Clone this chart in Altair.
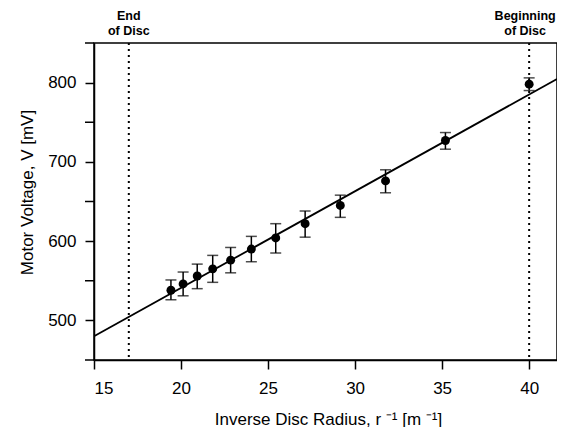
import altair as alt
import pandas as pd

# Data
radius_inv = [19.42, 20.12, 20.93, 21.82, 22.85, 24.04, 25.44, 27.13, 29.15, 31.75, 35.19, 40.0]
voltage = [538, 546, 556, 565, 576, 590, 604, 622, 645, 676, 727, 798]
v_low = [526, 531, 540, 548, 560, 574, 585, 605, 630, 661, 716, 790]
v_high = [551, 561, 571, 582, 592, 606, 622, 638, 658, 690, 737, 806]

fit_slope = 12.2
fit_intercept = 297.0
x_domain = [15, 41.6]
y_domain = [450, 850]

disc_x = [17, 40]
disc_labels = ["End\nof Disc", "Beginning\nof Disc"]

x_ticks = [15, 20, 25, 30, 35, 40]
y_ticks = [500, 600, 700, 800]
y_minor_ticks = [450, 550, 650, 750, 850]

df = pd.DataFrame({"x": radius_inv, "v": voltage, "lo": v_low, "hi": v_high})
fit_df = pd.DataFrame({"x": x_domain, "v": [fit_intercept + fit_slope * x for x in x_domain]})
end_df = pd.DataFrame({"x": disc_x[:1], "t": disc_labels[:1]})
beg_df = pd.DataFrame({"x": disc_x[1:], "t": disc_labels[1:]})
disc_df = pd.DataFrame({"x": disc_x})
minor_df = pd.DataFrame({"m": y_minor_ticks})

FONT = "Liberation Sans"

xs = alt.Scale(domain=x_domain, nice=False, zero=False)
ys = alt.Scale(domain=y_domain, nice=False, zero=False)

x_axis = alt.Axis(values=x_ticks, title="Inverse Disc Radius, r \u207b\u00b9 [m \u207b\u00b9]",
                  labelPadding=11, labelOverlap=False,
                  titleX=234, titleY=64, titleBaseline="alphabetic", titleAlign="center")
y_axis = alt.Axis(values=y_ticks, title="Motor Voltage, V [mV]",
                  labelOverlap=False, labelPadding=9,
                  titleX=-67, titleY=149, titleBaseline="middle", titleAlign="center",
                  titleAngle=270)

X = alt.X("x:Q", scale=xs, axis=x_axis)
Y = alt.Y("v:Q", scale=ys, axis=y_axis)

fit = alt.Chart(fit_df).mark_line(color="black", strokeWidth=1.8, clip=True).encode(x=X, y=Y)

disc_lines = alt.Chart(disc_df).mark_rule(color="black", strokeDash=[2, 4], strokeWidth=2).encode(x=X)

minor = alt.Chart(minor_df).mark_rule(color="black", strokeWidth=1.5).encode(
    y=alt.Y("m:Q", scale=ys, axis=y_axis), x=alt.value(-9), x2=alt.value(0))

bars = alt.Chart(df).mark_rule(color="black", strokeWidth=1.5).encode(
    x=X, y=alt.Y("lo:Q", scale=ys, axis=y_axis), y2="hi:Q")
cap_lo = alt.Chart(df).mark_tick(color="black", orient="horizontal", size=11, thickness=1.5).encode(
    x=X, y=alt.Y("lo:Q", scale=ys, axis=y_axis))
cap_hi = alt.Chart(df).mark_tick(color="black", orient="horizontal", size=11, thickness=1.5).encode(
    x=X, y=alt.Y("hi:Q", scale=ys, axis=y_axis))
points = alt.Chart(df).mark_circle(color="black", opacity=1, size=80).encode(x=X, y=Y)

text_style = dict(font=FONT, fontSize=12.5, fontWeight="bold", color="black",
                  baseline="alphabetic", align="center", lineBreak="\n", lineHeight=14.5)
end_label = alt.Chart(end_df).mark_text(**text_style).encode(x=X, y=alt.value(-23), text="t:N")
beg_label = alt.Chart(beg_df).mark_text(dx=-4, **text_style).encode(x=X, y=alt.value(-23), text="t:N")

chart = alt.layer(fit, disc_lines, minor, bars, cap_lo, cap_hi, points, end_label, beg_label).properties(
    width=463, height=317,
    autosize=alt.AutoSizeParams(type="none"),
    padding={"left": 86, "top": 35, "right": 0, "bottom": 67},
).configure_view(stroke="black", strokeWidth=1.5).configure_axis(
    grid=False, domainColor="black", domainWidth=1.5, tickColor="black", tickWidth=1.5,
    tickSize=9, labelFont=FONT, labelFontSize=17, labelColor="black",
    titleFont=FONT, titleFontSize=17, titleFontWeight="normal", titleColor="black"
)

chart.save("out.html", embed_options={"renderer": "svg", "actions": False})
